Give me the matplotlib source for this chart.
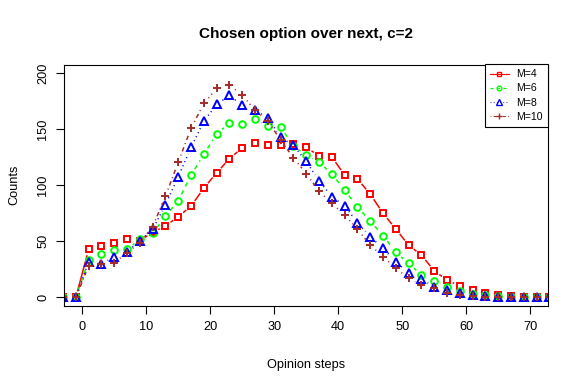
import numpy as np
import matplotlib
matplotlib.use("Agg")
import matplotlib.pyplot as plt

plt.rcParams['font.family'] = ['Liberation Sans', 'DejaVu Sans']

# opinion steps -3, -1, 1, ..., 73
steps = list(range(-3, 74, 2))

m4 = [0, 0, 42.9, 45.8, 48.5, 51.8, 50.5, 58, 63.7, 72, 81.5, 97.6, 111.3, 123.8,
      133.6, 137.8, 135.7, 136, 136.9, 133.9, 126.4, 125.3, 109.2, 105.6, 92.2,
      75, 61, 46.4, 37.8, 23.5, 15.4, 10.1, 6.5, 3.5, 2, 1, 0.5, 0.5, 0]
m6 = [0, 0, 33.3, 38.4, 42, 42.9, 51.8, 57.1, 72.6, 86.3, 109.2, 127.7, 146.1,
      155.3, 154.5, 158.9, 152.9, 151.8, 135.4, 127, 120.8, 110, 95.8, 80.6,
      68.1, 55, 40.2, 30.3, 19.9, 14.8, 9.2, 5.9, 3, 2, 1, 0.5, 0.3, 0.3, 0]
m8 = [0, 0, 31.8, 29.7, 36.3, 40.7, 50.5, 60.7, 82.8, 107.7, 133.9, 157.4,
      172.3, 180.4, 171.4, 167.2, 160.4, 142.9, 135.7, 121.4, 104.1, 89.8, 81.8,
      66.6, 54.1, 43.8, 31.8, 21.4, 16.1, 9.5, 6.5, 3.6, 2, 1, 0.5, 0.3, 0.2, 0.2, 0]
m10 = [0, 0, 28.2, 29.7, 30.9, 39.8, 48.8, 63, 90.4, 120.8, 151.2, 173.2, 186.6,
       189.6, 180.6, 167.2, 157.4, 140.4, 124.6, 110.4, 94.9, 83.9, 73.5, 60.7,
       46.7, 36.3, 25.9, 17, 11, 8.6, 3.6, 2, 1, 0.5, 0.3, 0.2, 0.2, 0.2, 0]

labels = ["M=4", "M=6", "M=8", "M=10"]
series = [m4, m6, m8, m10]
colors = ["#FF0000", "#00FF00", "#0000FF", "#A52A2A"]
markers = ["s", "o", "^", "+"]
msizes = [5.0, 4.8, 5.8, 6.4]
dashes = [None, (2.9, 2.9), (0.7, 2.2), (0.7, 2.2, 2.9, 2.2)]
GAP = 7.0  # px left free around each point, like R's type="b"

fig = plt.figure(figsize=(5.81, 3.87), dpi=100)
ax = fig.add_axes([64 / 581, 1 - 306 / 387, 483.5 / 581, 241.5 / 387])
ax.set_xlim(-2.86, 72.7)
ax.set_ylim(-7.8, 208)


def gapped_line(xs, ys):
    # split the polyline into segments, each shortened at both ends
    pts = ax.transData.transform(np.column_stack([xs, ys]))
    out = []
    for p, q in zip(pts[:-1], pts[1:]):
        d = q - p
        n = np.hypot(*d)
        if n <= 2 * GAP:
            continue
        u = d / n
        out.append(p + u * GAP)
        out.append(q - u * GAP)
        out.append([np.nan, np.nan])
    out = np.array(out)
    good = ~np.isnan(out[:, 0])
    res = np.full_like(out, np.nan)
    res[good] = ax.transData.inverted().transform(out[good])
    return res[:, 0], res[:, 1]


for ys, lab, c, mk, ms, d in zip(series, labels, colors, markers, msizes, dashes):
    gx, gy = gapped_line(steps, ys)
    seg, = ax.plot(gx, gy, color=c, lw=1.1)
    ax.plot(steps, ys, linestyle="none", marker=mk, markersize=ms,
            markerfacecolor="none", markeredgecolor=c, markeredgewidth=1.4)
    if d is not None:
        seg.set_dashes(d)
    # legend proxy
    proxy, = ax.plot([], [], color=c, lw=0.8, marker=mk, markersize=ms * 0.7,
                     markerfacecolor="none", markeredgecolor=c,
                     markeredgewidth=1.0, label=lab)
    if d is not None:
        proxy.set_dashes(d)

ax.set_xticks([0, 10, 20, 30, 40, 50, 60, 70])
ax.set_yticks([0, 50, 100, 150, 200])
ax.tick_params(direction="out", length=5.5, width=0.8, labelsize=9.2, pad=5)
for lbl in ax.get_yticklabels():
    lbl.set_rotation(90)
    lbl.set_va("center")
for sp in ax.spines.values():
    sp.set_linewidth(0.8)

ax.set_title("Chosen option over next, c=2", fontsize=11, fontweight="bold", pad=19)
ax.set_xlabel("Opinion steps", fontsize=9.2, labelpad=19)
ax.set_ylabel("Counts", fontsize=9.2, labelpad=12)

leg = ax.legend(loc="upper right", fontsize=7.6, borderaxespad=0, fancybox=False,
                edgecolor="black", framealpha=1, handlelength=1.8,
                handletextpad=0.7, labelspacing=0.4, borderpad=0.45)
leg.get_frame().set_linewidth(0.8)

fig.savefig("out.png", dpi=100)
plt.close(fig)
